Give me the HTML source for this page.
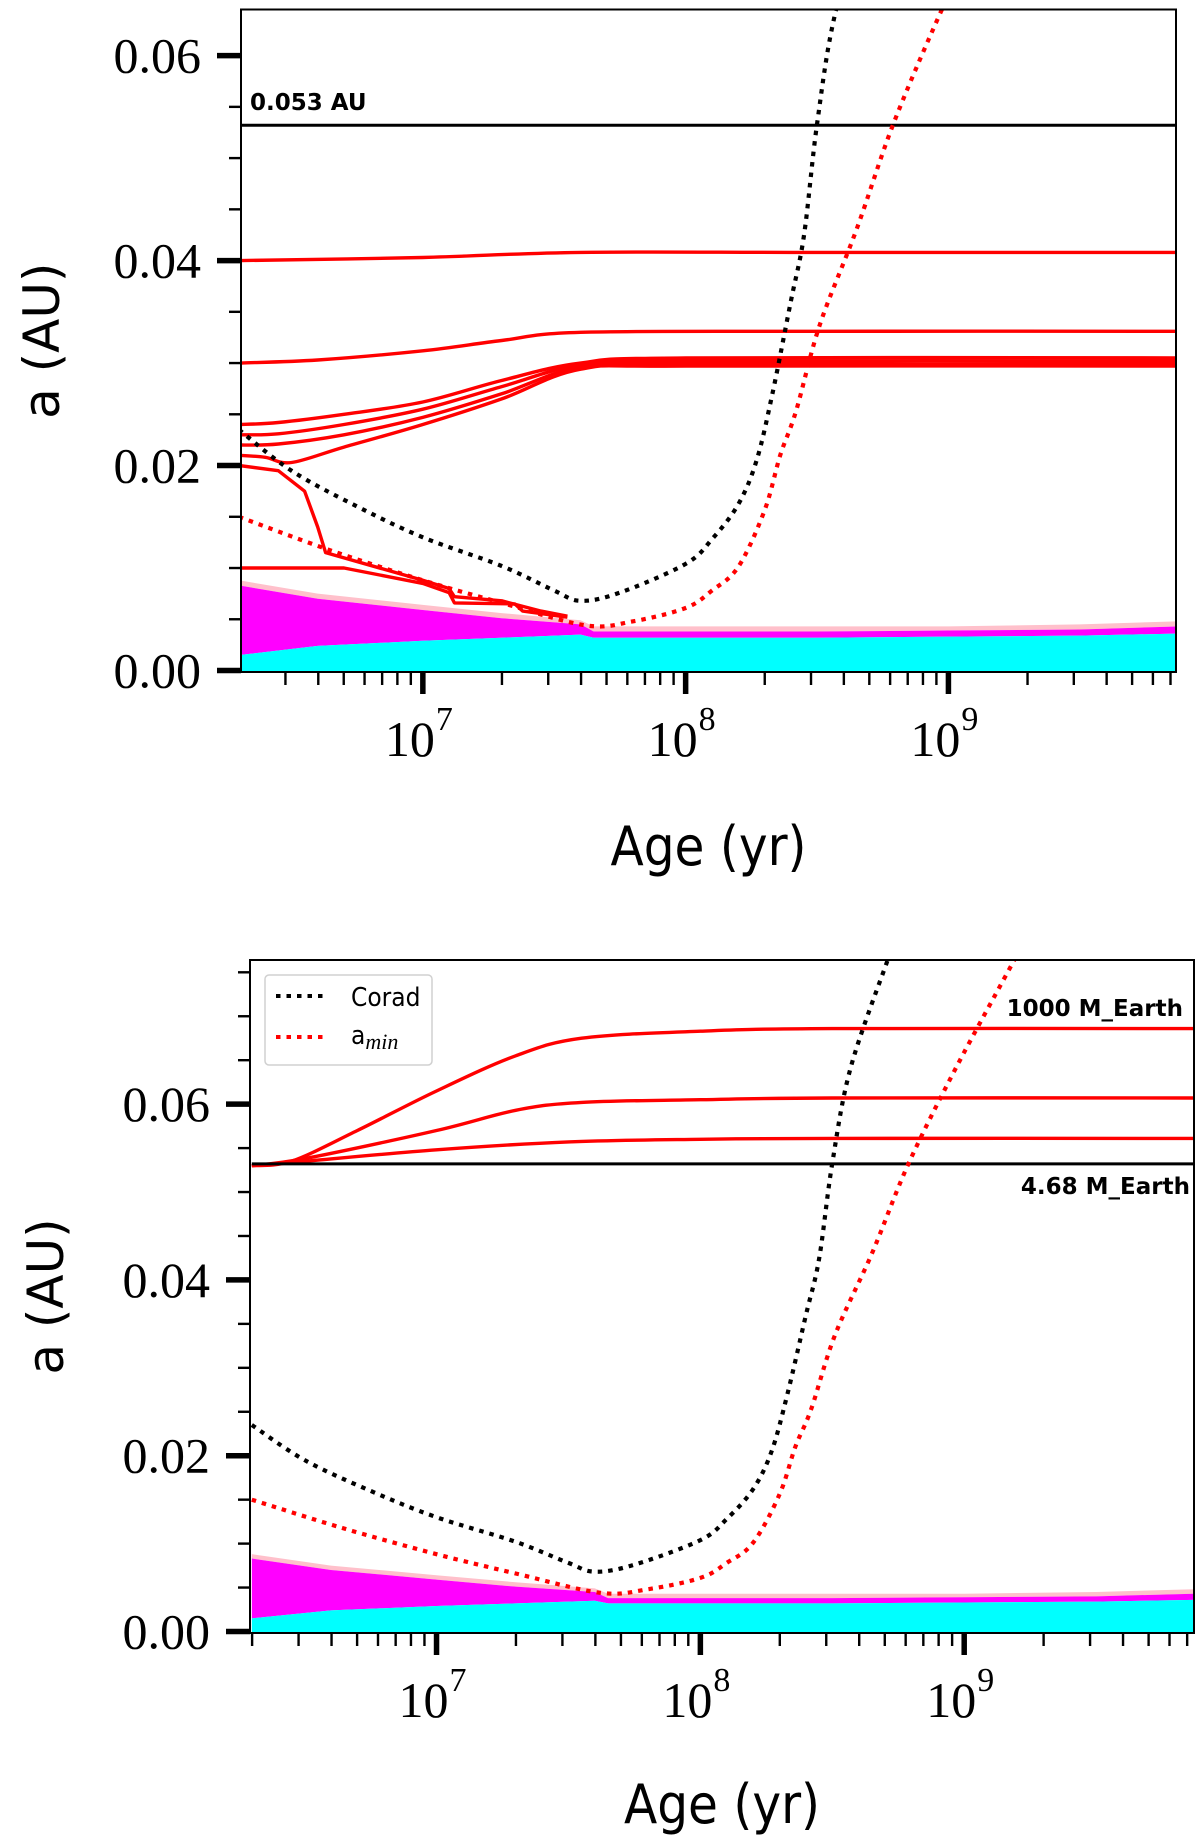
<!DOCTYPE html>
<html><head><meta charset="utf-8"><style>
html,body{margin:0;padding:0;background:#fff}
svg{display:block}
</style></head><body>
<svg id="fig" width="1200" height="1838" xmlns="http://www.w3.org/2000/svg"></svg>
<script>
// ---- data (x = log10 age in yr, y = semi-major axis in AU) ----
const coradLogT = [6.3,6.5,6.75,7.0,7.3,7.5,7.6,7.75,8.0,8.1,8.2,8.27,8.33,8.4,8.45,8.5,8.57,8.71];
const coradA    = [0.0235,0.0195,0.0160,0.0130,0.0102,0.0078,0.0068,0.0076,0.0104,0.0128,0.0162,0.0205,0.027,0.036,0.0424,0.0533,0.0642,0.0764];
const aminLogT  = [6.3,6.64,7.0,7.3,7.62,7.8,8.0,8.1,8.2,8.3,8.36,8.42,8.51,8.65,8.79,8.97,9.19];
const aminA     = [0.0150,0.0118,0.0088,0.0066,0.0044,0.0048,0.0061,0.0078,0.0101,0.0156,0.021,0.0253,0.0337,0.043,0.0533,0.0642,0.0764];
const bandLogT  = [6.3,6.6,7.0,7.3,7.6,7.65,8.0,8.5,9.0,9.5,9.87];
const pinkTop   = [0.0088,0.0075,0.0064,0.0056,0.0049,0.0043,0.0043,0.0043,0.0043,0.0045,0.0048];
const magentaTop= [0.0083,0.0070,0.0059,0.0051,0.0045,0.0038,0.0038,0.0038,0.0039,0.0040,0.0043];
const cyanTop   = [0.0015,0.0024,0.0029,0.0032,0.0035,0.0032,0.0032,0.0032,0.0033,0.0034,0.0036];
const topTrackLogT = [
 [6.3,7.0,7.6,8.5,9.87],
 [6.3,6.6,7.0,7.3,7.6,8.5,9.87],
 [6.3,6.45,6.7,7.0,7.3,7.6,8.0,9.87],
 [6.3,6.45,6.7,7.0,7.3,7.6,8.0,9.87],
 [6.3,6.45,6.7,7.0,7.3,7.6,8.0,9.87],
 [6.3,6.4,6.5,6.7,7.0,7.3,7.6,8.0,9.87],
 [6.3,6.45,6.55,6.6,6.63,7.0,7.1,7.12,7.3,7.45,7.55],
 [6.3,6.7,7.0,7.1,7.12,7.35,7.38,7.55]
];
const topTrackA = [
 [0.0400,0.0403,0.0408,0.0408,0.0408],
 [0.0300,0.0303,0.0312,0.0322,0.0330,0.0331,0.0331],
 [0.0240,0.0242,0.0250,0.0262,0.0283,0.0300,0.0305,0.0305],
 [0.0230,0.0231,0.0240,0.0255,0.0277,0.0298,0.0302,0.0302],
 [0.0220,0.0221,0.0230,0.0247,0.0270,0.0296,0.0299,0.0299],
 [0.0210,0.0208,0.0203,0.0218,0.0240,0.0265,0.0294,0.0297,0.0297],
 [0.0200,0.0195,0.0175,0.0140,0.0115,0.0088,0.0080,0.0072,0.0068,0.0058,0.0053],
 [0.0100,0.0100,0.0085,0.0076,0.0066,0.0065,0.0058,0.0052]
];
const topTrackSmooth = [true,true,true,true,true,true,false,false];
const botTrackLogT = [
 [6.3,6.45,6.7,7.0,7.3,7.55,8.0,8.5,9.87],
 [6.3,6.5,7.0,7.3,7.55,8.0,8.5,9.87],
 [6.3,6.5,7.0,7.5,8.0,8.5,9.87]
];
const botTrackA = [
 [0.053,0.0535,0.057,0.0615,0.0655,0.0675,0.0683,0.0686,0.0686],
 [0.053,0.0538,0.057,0.0593,0.0602,0.0605,0.0607,0.0607],
 [0.053,0.0535,0.0548,0.0557,0.0560,0.0561,0.0561]
];
const botTrackSmooth = [true,true,true];
const yTickLabels = ["0.00","0.02","0.04","0.06"];
const xTickLabels = ["7","8","9"];

const NS="http://www.w3.org/2000/svg";
const fig=document.getElementById('fig');
function el(tag,attrs,parent){const e=document.createElementNS(NS,tag);for(const k in attrs)e.setAttribute(k,attrs[k]);(parent||fig).appendChild(e);return e;}

function smoothPath(P){
  let d='M'+P[0][0].toFixed(1)+','+P[0][1].toFixed(1);
  for(let i=0;i<P.length-1;i++){
    const p0=P[Math.max(0,i-1)],p1=P[i],p2=P[i+1],p3=P[Math.min(P.length-1,i+2)];
    const c1=[p1[0]+(p2[0]-p0[0])/6,p1[1]+(p2[1]-p0[1])/6];
    const c2=[p2[0]-(p3[0]-p1[0])/6,p2[1]-(p3[1]-p1[1])/6];
    d+=' C'+c1[0].toFixed(1)+','+c1[1].toFixed(1)+' '+c2[0].toFixed(1)+','+c2[1].toFixed(1)+' '+p2[0].toFixed(1)+','+p2[1].toFixed(1);
  }
  return d;
}

function panel(p){
  const g=el('g',{});
  
  
  const X=v=>p.x0+(v-p.lmin)/(p.lmax-p.lmin)*(p.x1-p.x0);
  const Y=v=>p.y0+(v/p.amax)*(p.yTop-p.y0);
  const cid='clip'+p.name;
  const cp=el('clipPath',{id:cid},g);
  el('rect',{x:p.x0,y:p.yTop,width:p.x1-p.x0,height:p.yb-p.yTop},cp);
  const pg=el('g',{'clip-path':'url(#'+cid+')'},g);
  function area(topv,bot,color,name){
    let d='M'+X(bandLogT[0])+','+Y(topv[0]);
    for(let i=1;i<bandLogT.length;i++)d+=' L'+X(bandLogT[i])+','+Y(topv[i]);
    for(let i=bandLogT.length-1;i>=0;i--)d+=' L'+X(bandLogT[i])+','+(bot?Y(bot[i]):p.yb);
    const a=el('path',{d:d,fill:color,stroke:'none'},pg);
    
    
  }
  area(pinkTop,magentaTop,'#ffc0cb','pink-band');
  area(magentaTop,cyanTop,'#ff00ff','magenta-region');
  area(cyanTop,null,'#00ffff','cyan-region');
  function line(xs,ys,color,w,dash,name,smooth){
    const P=xs.map((x,i)=>[X(x),Y(ys[i])]);
    const d=smooth?smoothPath(P):'M'+P.map(q=>q[0].toFixed(1)+','+q[1].toFixed(1)).join(' L');
    const a={d:d,fill:'none',stroke:color,'stroke-width':w,'stroke-linejoin':'round'};
    if(dash)a['stroke-dasharray']=dash;
    const l=el('path',a,pg);
    
    
  }
  p.tracksT.forEach((t,i)=>line(t,p.tracksA[i],'#ff0000',3.4,null,'planet-track-'+(i+1),p.smooth[i]));
  line([6.3,9.87],[0.0532,0.0532],'#000',3,null,'initial-orbit-line',false);
  line(coradLogT,coradA,'#000',4.2,'4.5,6','corad-line',true);
  line(aminLogT,aminA,'#ff0000',4.2,'4.5,6','amin-line',true);
  const fr=el('rect',{x:p.x0,y:p.yTop,width:p.x1-p.x0,height:p.yb-p.yTop,fill:'none',stroke:'#000','stroke-width':2},g);
  
  
  for(let k=0;k*0.005<=p.amax+1e-9;k++){
    const v=k*0.005;
    const yy=Y(v); const maj=(k%4===0);
    el('line',{x1:p.x0,x2:p.x0-(maj?24:12),y1:yy,y2:yy,stroke:'#000','stroke-width':maj?5.5:2.4},g);
  }
  yTickLabels.forEach((s,i)=>{
    const t=el('text',{x:p.x0-40,y:Y(i*0.02)+17,'text-anchor':'end','font-family':'Liberation Serif, serif','font-size':50},g);
    t.textContent=s;
    
    
  });
  for(let dec=6;dec<=9;dec++){
    for(let m=1;m<=9;m++){
      const lv=dec+Math.log10(m);
      if(lv<p.lmin||lv>p.lmax)continue;
      const xx=X(lv);
      el('line',{x1:xx,x2:xx,y1:p.yb,y2:p.yb+(m==1?22:13),stroke:'#000','stroke-width':m==1?5.5:2.4},g);
    }
  }
  xTickLabels.forEach((s,i)=>{
    const xx=X(7+i);
    const t=el('text',{x:xx+12,y:p.yb+84,'text-anchor':'end','font-family':'Liberation Serif, serif','font-size':50},g);
    t.textContent='10';
    
    
    const e=el('text',{x:xx+13,y:p.yb+58,'text-anchor':'start','font-family':'Liberation Serif, serif','font-size':34},g);
    e.textContent=s;
    
    
  });
  const yl=el('text',{x:0,y:0,transform:'translate('+(p.x0-p.ylOff)+','+((p.yTop+p.yb)/2)+') rotate(-90)','text-anchor':'middle','font-family':'DejaVu Sans, Liberation Sans, sans-serif','font-size':50},g);
  yl.textContent='a (AU)';
  
  
  const xl=el('text',{x:(p.x0+p.x1)/2,y:p.yb+p.xlOff,'text-anchor':'middle','font-family':'DejaVu Sans Condensed, DejaVu Sans, sans-serif','font-size':54},g);
  xl.textContent='Age (yr)';
  
  
  return {X,Y,g};
}

const topP=panel({name:'top-panel',x0:241,x1:1176,y0:670.5,yTop:9.5,yb:672,amax:0.0645,lmin:6.308,lmax:9.866,tracksT:topTrackLogT,tracksA:topTrackA,smooth:topTrackSmooth,ylOff:182,xlOff:193});
const tl=el('text',{x:250,y:110,'font-family':'DejaVu Sans, sans-serif','font-weight':'bold','font-size':23},topP.g);
tl.textContent='0.053 AU';



const botP=panel({name:'bottom-panel',x0:250,x1:1194,y0:1631.5,yTop:960,yb:1633,amax:0.0764,lmin:6.293,lmax:9.871,tracksT:botTrackLogT,tracksA:botTrackA,smooth:botTrackSmooth,ylOff:187,xlOff:190});
const b1=el('text',{x:1183,y:1016,'text-anchor':'end','font-family':'DejaVu Sans, sans-serif','font-weight':'bold','font-size':23},botP.g);
b1.textContent='1000 M_Earth';


const b2=el('text',{x:1190,y:1194,'text-anchor':'end','font-family':'DejaVu Sans, sans-serif','font-weight':'bold','font-size':23},botP.g);
b2.textContent='4.68 M_Earth';


const lg=el('g',{},botP.g);


el('rect',{x:265,y:975,width:167,height:90,rx:4,fill:'#fff','fill-opacity':0.85,stroke:'#d0d0d0','stroke-width':1.5},lg);
el('line',{x1:276,x2:325,y1:996,y2:996,stroke:'#000','stroke-width':4,'stroke-dasharray':'4.5,6'},lg);
el('line',{x1:276,x2:325,y1:1037,y2:1037,stroke:'#f00','stroke-width':4,'stroke-dasharray':'4.5,6'},lg);
const l1=el('text',{x:351,y:1006,'font-family':'DejaVu Sans Condensed, DejaVu Sans, sans-serif','font-size':26},lg);
l1.textContent='Corad';


const l2=el('text',{x:351,y:1044,'font-family':'DejaVu Sans Condensed, DejaVu Sans, sans-serif','font-size':26},lg);
l2.textContent='a';


const sub=el('tspan',{'font-family':'Liberation Serif, serif','font-style':'italic','font-size':22,dy:5},l2);
sub.textContent='min';
</script>
</body></html>
